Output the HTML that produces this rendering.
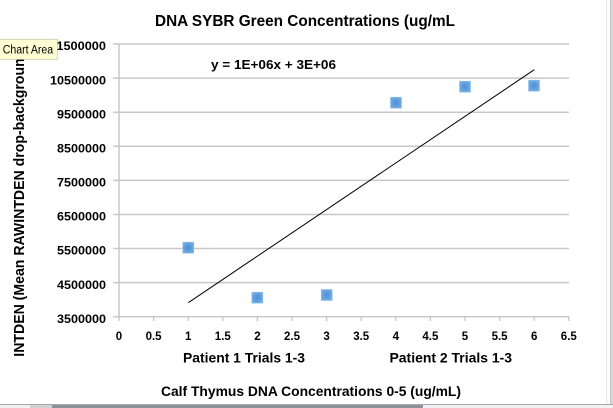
<!DOCTYPE html>
<html><head><meta charset="utf-8"><style>
html,body{margin:0;padding:0;background:#fff;}
svg{display:block;}
text{font-family:"Liberation Sans",sans-serif;font-weight:bold;fill:#000;}
</style></head><body>
<svg width="613" height="408" viewBox="0 0 613 408" xmlns="http://www.w3.org/2000/svg">
<rect x="0" y="0" width="613" height="408" fill="#fff"/>
<!-- gridlines -->
<g stroke="#c8c8c8" stroke-width="1.5">
<line x1="113" y1="44" x2="569" y2="44"/>
<line x1="113" y1="78.1" x2="569" y2="78.1"/>
<line x1="113" y1="112.2" x2="569" y2="112.2"/>
<line x1="113" y1="146.3" x2="569" y2="146.3"/>
<line x1="113" y1="180.4" x2="569" y2="180.4"/>
<line x1="113" y1="214.5" x2="569" y2="214.5"/>
<line x1="113" y1="248.5" x2="569" y2="248.5"/>
<line x1="113" y1="282.6" x2="569" y2="282.6"/>
<line x1="113" y1="316.7" x2="569" y2="316.7"/>
<line x1="119" y1="44" x2="119" y2="316.7"/>
</g>
<g stroke="#c0c0c0" stroke-width="1.2">
<line x1="119" y1="316.7" x2="119" y2="321"/>
<line x1="153.6" y1="316.7" x2="153.6" y2="321"/>
<line x1="188.2" y1="316.7" x2="188.2" y2="321"/>
<line x1="222.8" y1="316.7" x2="222.8" y2="321"/>
<line x1="257.4" y1="316.7" x2="257.4" y2="321"/>
<line x1="292" y1="316.7" x2="292" y2="321"/>
<line x1="326.6" y1="316.7" x2="326.6" y2="321"/>
<line x1="361.2" y1="316.7" x2="361.2" y2="321"/>
<line x1="395.8" y1="316.7" x2="395.8" y2="321"/>
<line x1="430.4" y1="316.7" x2="430.4" y2="321"/>
<line x1="465" y1="316.7" x2="465" y2="321"/>
<line x1="499.6" y1="316.7" x2="499.6" y2="321"/>
<line x1="534.2" y1="316.7" x2="534.2" y2="321"/>
<line x1="568.8" y1="316.7" x2="568.8" y2="321"/>
</g>
<!-- title -->
<text x="155" y="26" font-size="16" textLength="300" lengthAdjust="spacingAndGlyphs">DNA SYBR Green Concentrations (ug/mL</text>
<!-- equation -->
<text x="211" y="69" font-size="12.5" textLength="125" lengthAdjust="spacingAndGlyphs">y = 1E+06x + 3E+06</text>
<!-- y tick labels -->
<g font-size="11.5" text-anchor="end">
<text x="106" y="50" textLength="56" lengthAdjust="spacingAndGlyphs">11500000</text>
<text x="106" y="84.3" textLength="56" lengthAdjust="spacingAndGlyphs">10500000</text>
<text x="106" y="118.4" textLength="49" lengthAdjust="spacingAndGlyphs">9500000</text>
<text x="106" y="152.5" textLength="49" lengthAdjust="spacingAndGlyphs">8500000</text>
<text x="106" y="186.6" textLength="49" lengthAdjust="spacingAndGlyphs">7500000</text>
<text x="106" y="220.7" textLength="49" lengthAdjust="spacingAndGlyphs">6500000</text>
<text x="106" y="254.7" textLength="49" lengthAdjust="spacingAndGlyphs">5500000</text>
<text x="106" y="288.8" textLength="49" lengthAdjust="spacingAndGlyphs">4500000</text>
<text x="106" y="322.9" textLength="49" lengthAdjust="spacingAndGlyphs">3500000</text>
</g>
<!-- x tick labels -->
<g font-size="11.5" text-anchor="middle">
<text x="119" y="340">0</text>
<text x="153.6" y="340">0.5</text>
<text x="188.2" y="340">1</text>
<text x="222.8" y="340">1.5</text>
<text x="257.4" y="340">2</text>
<text x="292" y="340">2.5</text>
<text x="326.6" y="340">3</text>
<text x="361.2" y="340">3.5</text>
<text x="395.8" y="340">4</text>
<text x="430.4" y="340">4.5</text>
<text x="465" y="340">5</text>
<text x="499.6" y="340">5.5</text>
<text x="534.2" y="340">6</text>
<text x="568.8" y="340">6.5</text>
</g>
<text x="183" y="362.7" font-size="14" textLength="122" lengthAdjust="spacingAndGlyphs">Patient 1 Trials 1-3</text>
<text x="389.5" y="362.7" font-size="14" textLength="122.5" lengthAdjust="spacingAndGlyphs">Patient 2 Trials 1-3</text>
<text x="161" y="396" font-size="14" textLength="300" lengthAdjust="spacingAndGlyphs">Calf Thymus DNA Concentrations 0-5 (ug/mL)</text>
<!-- y axis title -->
<text transform="translate(24,356.7) rotate(-90)" x="0" y="0" font-size="14.5" textLength="307" lengthAdjust="spacingAndGlyphs">INTDEN (Mean RAWINTDEN drop-background</text>
<!-- trendline -->
<line x1="188.3" y1="302.7" x2="534.3" y2="69.7" stroke="#000" stroke-width="1"/>
<!-- markers -->
<defs>
<radialGradient id="g" cx="50%" cy="50%" r="70%">
<stop offset="0" stop-color="#4a8fd6"/>
<stop offset="1" stop-color="#7db4e8"/>
</radialGradient>
</defs>
<g fill="url(#g)" stroke="#8fc0ec" stroke-width="0.6">
<rect x="182.8" y="242.2" width="11" height="11"/>
<rect x="251.8" y="292.2" width="11" height="11"/>
<rect x="321.2" y="289.5" width="11" height="11"/>
<rect x="390.5" y="97.2" width="11" height="11"/>
<rect x="459.5" y="81.2" width="11" height="11"/>
<rect x="528.5" y="80.2" width="11" height="11"/>
</g>
<!-- tooltip -->
<rect x="-1" y="39.3" width="58.3" height="20" fill="#ffffd4" stroke="#c8c8a8" stroke-width="0.8"/>
<text x="2.7" y="53.3" font-size="11.5" font-weight="normal" style="font-weight:normal" textLength="50.5" lengthAdjust="spacingAndGlyphs">Chart Area</text>
<!-- right strip -->
<line x1="606.7" y1="0" x2="606.7" y2="404" stroke="#e4e4e4" stroke-width="1"/>
<rect x="610" y="0" width="3" height="408" fill="#d8d8d8"/>
<line x1="610.3" y1="0" x2="610.3" y2="408" stroke="#b8b8b8" stroke-width="0.7"/>
<!-- bottom strip -->
<rect x="0" y="404.5" width="613" height="4" fill="#f2f2f2"/>
<line x1="0" y1="404.5" x2="613" y2="404.5" stroke="#a8a8a8" stroke-width="1"/>
<rect x="30" y="405" width="22" height="3" fill="#d2d2d2"/>
<rect x="52" y="405" width="371" height="3" fill="#8c929c"/>
</svg>
</body></html>
